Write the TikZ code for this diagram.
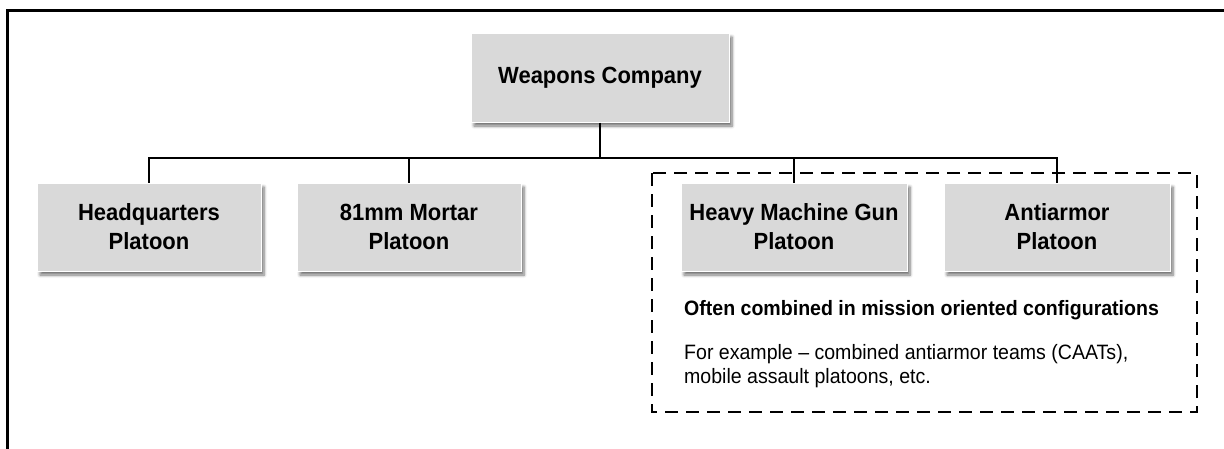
\documentclass[tikz,border=0pt]{standalone}
\usepackage{fontspec}
\setmainfont{Liberation Sans}[FakeStretch=0.94]
\usetikzlibrary{shadows.blur}
\definecolor{boxgray}{HTML}{D9D9D9}
\tikzset{
  orgbox/.style={rectangle, fill=boxgray, draw=white, line width=1pt,
    minimum height=88pt, align=center,
    font=\fontsize{23.4}{29}\selectfont\bfseries,
    blur shadow={shadow xshift=3pt, shadow yshift=-4pt, shadow blur steps=6, shadow blur radius=3pt, shadow opacity=55}},
  conn/.style={line width=2.6pt, black},
  grouprect/.style={line width=2.6pt, dash pattern=on 13pt off 8pt},
  frame/.style={line width=3pt},
  note/.style={anchor=west, inner sep=0pt, align=left}
}
\begin{document}
\begin{tikzpicture}[x=1pt,y=-1pt]
\useasboundingbox (0,0) rectangle (1224,448);
% outer frame
\draw[frame] (7.5,449) -- (7.5,10.5) -- (1225,10.5);
% dashed group
\draw[grouprect] (652,173) rectangle (1197,412);
% nodes
\node[orgbox, minimum width=258pt, minimum height=89pt] (wc) at (600,77.5) {Weapons Company};
\node[orgbox, minimum width=224pt] (hq) at (149,227) {Headquarters\\Platoon};
\node[orgbox, minimum width=224pt] (mo) at (409,227) {81mm Mortar\\Platoon};
\node[orgbox, minimum width=226pt] (hmg) at (794,227) {Heavy Machine Gun\\Platoon};
\node[orgbox, minimum width=226pt] (aa) at (1057,227) {Antiarmor\\Platoon};
\coordinate (bar) at (600,158);
% connectors
\draw[conn] (wc.south) -- (bar);
\draw[conn] (hq.north) |- (aa.north |- bar) -- (aa.north);
\draw[conn] (mo.north) -- (mo.north |- bar);
\draw[conn] (hmg.north) -- (hmg.north |- bar);
% notes
\node[note, font=\fontsize{20.8}{24}\selectfont\bfseries] (often) at (684,310) {Often combined in mission oriented configurations};
\node[note, font=\fontsize{20.8}{24}\selectfont, anchor=north west] (example) at (684,344) {For example -- combined antiarmor teams (CAATs),\\mobile assault platoons, etc.};
\end{tikzpicture}
\end{document}
